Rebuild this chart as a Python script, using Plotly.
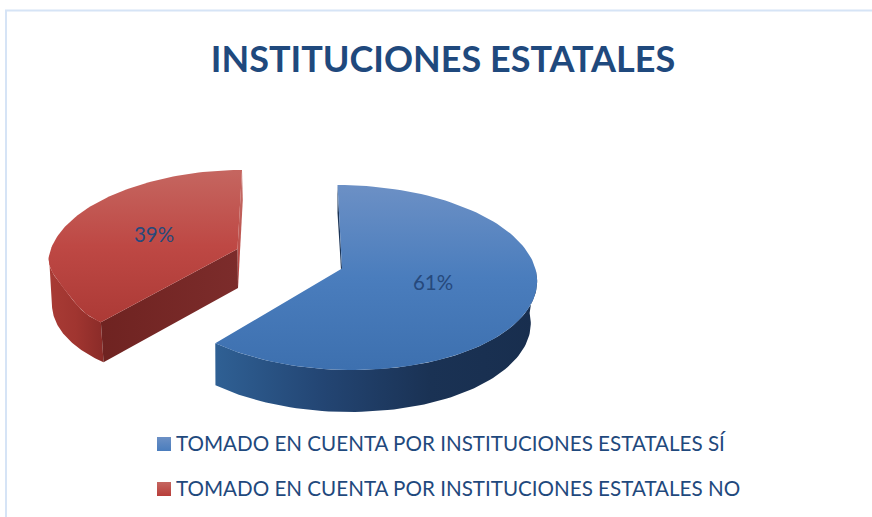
import numpy as np
import plotly.graph_objects as go

# --- data ---
categories = ["TOMADO EN CUENTA POR INSTITUCIONES ESTATALES SÍ",
              "TOMADO EN CUENTA POR INSTITUCIONES ESTATALES NO"]
values = [61, 39]
title_text = "INSTITUCIONES ESTATALES"

# --- styles / projection of the tilted, exploded pie ---
TEXT = "#1F497D"
FONT = "Lato"
blue_geo = dict(cx=345, cy=277.5, a=192, b=92.5, s=-7.5, warp=5.2, tip=(342, 268.5), depth=42, bscale=0.98, bdx=-2.5, pull=0)
red_geo = dict(cx=226, cy=256, a=177, b=86, s=16, warp=0, tip=(237.5, 249), depth=40, bscale=0.985, bdx=1, pull=8)

split = values[0] / sum(values) * 360


def rim(g, deg, bottom=False):
    deg = np.asarray(deg, dtype=float)
    t = np.radians(deg + g["warp"] * np.sin(np.radians(2 * deg)))
    scale = g["bscale"] if bottom else 1.0
    x = g["cx"] + scale * (g["a"] * np.sin(t)) + g["s"] * np.cos(t) + (g["bdx"] if bottom else 0)
    y = g["cy"] - g["b"] * np.cos(t) + (g["depth"] if bottom else 0)
    if not bottom and g["pull"]:
        # the near-left rim sits slightly inward in the source's perspective
        u = np.clip((deg - split) / (270 - split), 0, 1)
        x = x + g["pull"] * np.sin(np.pi * u) ** 2
    return x, y


def poly(x, y, colors, kind):
    n = len(colors) - 1
    return go.Scatter(
        x=list(x), y=list(y), mode="lines", fill="toself", line=dict(width=0),
        fillgradient=dict(type=kind, colorscale=[[i / n, c] for i, c in enumerate(colors)]),
        hoverinfo="skip", showlegend=False)


fig = go.Figure()

# blue slice
th = np.linspace(0, split, 121)
xs, ys = rim(blue_geo, th)
tip = blue_geo["tip"]
vis = np.linspace(85, split, 80)
x1, y1 = rim(blue_geo, vis)
x2, y2 = rim(blue_geo, vis, True)
fig.add_trace(poly(np.r_[x1, x2[::-1]], np.r_[y1, y2[::-1]],
                   ["#2F6094", "#234573", "#1A3254", "#182E4E"], "horizontal"))
x0, y0 = rim(blue_geo, 0.0)
fig.add_trace(poly([x0, x0, tip[0] - 1, tip[0]], [y0, y0 + 28, tip[1] + 1, tip[1]],
                   ["#1C3557", "#1C3557"], "vertical"))
fig.add_trace(poly(np.r_[tip[0], xs, tip[0]], np.r_[tip[1], ys, tip[1]],
                   ["#3D70AF", "#4A7DBD", "#6C90C5"], "vertical"))

# red slice
th = np.linspace(split, 360, 101)
xs, ys = rim(red_geo, th)
tip = red_geo["tip"]
d = red_geo["depth"]
x0, y0 = rim(red_geo, 360.0)
fig.add_trace(poly([x0, x0 + 0.8, tip[0] + 0.5, tip[0]], [y0, y0 + 30, tip[1] + d - 0.5, tip[1]],
                   ["#B8403C", "#C4706A"], "vertical"))
x1, y1 = rim(red_geo, np.linspace(split, 270, 60))
x2, y2 = rim(red_geo, np.linspace(split, 262, 60), True)
fig.add_trace(poly(np.r_[x1, x2[::-1]], np.r_[y1, y2[::-1]],
                   ["#A83B35", "#A03530", "#8A2B28"], "horizontal"))
cx_, cy_ = rim(red_geo, split)
cbx, cby = rim(red_geo, split, True)
fig.add_trace(poly([tip[0], tip[0] + 0.5, cbx, cx_], [tip[1], tip[1] + d - 1, cby, cy_],
                   ["#6F2321", "#7C2C2B"], "horizontal"))
fig.add_trace(poly(np.r_[tip[0], xs, tip[0]], np.r_[tip[1], ys, tip[1]],
                   ["#AC3A36", "#BE4844", "#C56660"], "vertical"))

# percent labels
fig.add_trace(go.Scatter(
    x=[433, 154], y=[285, 237], mode="text",
    text=[f"{v}%" for v in values],
    textfont=dict(family=FONT, size=20.5, color="#26497C"),
    textposition="middle center", hoverinfo="skip", showlegend=False))

# legend entries
swatches = [("#4A7DBD", "#6C90C5"), ("#B83E3A", "#C56660")]
rows = [444, 489]
for cat, (c1, c2), yy in zip(categories, swatches, rows):
    fig.add_trace(go.Scatter(
        x=[164], y=[yy], mode="markers",
        marker=dict(symbol="square", size=14, color=c2,
                    gradient=dict(type="vertical", color=c1)),
        hoverinfo="skip", showlegend=False))
    fig.add_trace(go.Scatter(
        x=[176], y=[yy + 2], mode="text", text=[cat], textposition="middle right",
        textfont=dict(family=FONT, size=20.6, color=TEXT),
        hoverinfo="skip", showlegend=False))

fig.update_layout(
    width=872, height=517,
    margin=dict(l=0, r=0, t=0, b=0),
    paper_bgcolor="white", plot_bgcolor="white",
    showlegend=False,
    xaxis=dict(range=[0, 872], visible=False, fixedrange=True),
    yaxis=dict(range=[517, 0], visible=False, fixedrange=True),
    title=dict(text=f"<b>{title_text}</b>", x=443 / 872, xanchor="center",
               y=1 - 59 / 517, yanchor="middle",
               font=dict(family=FONT, size=36, color=TEXT)),
    shapes=[dict(type="rect", xref="x", yref="y", x0=6, y0=10.5, x1=900, y1=560,
                 line=dict(color="#D6E4F6", width=2), layer="below")],
)

fig.write_html("out.html", config=dict(displayModeBar=False),
               post_script="document.body.style.margin='0';document.body.style.overflow='hidden';")
